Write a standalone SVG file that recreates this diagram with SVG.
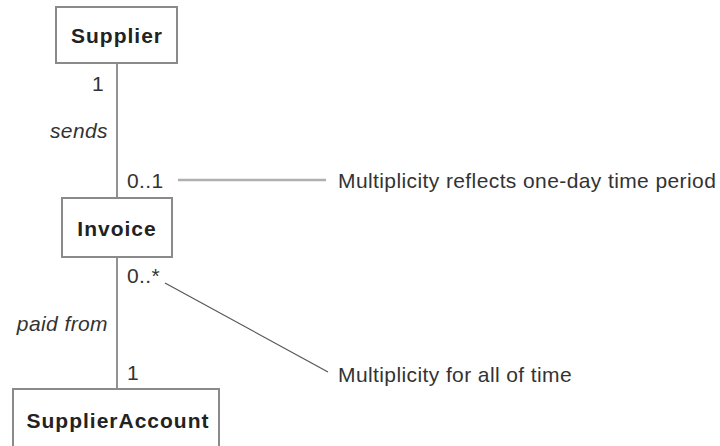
<svg xmlns="http://www.w3.org/2000/svg" width="720" height="446" viewBox="0 0 720 446">
<style>
.box{fill:#fff;stroke:#8a8a8a;stroke-width:2}
.name{font-family:"Liberation Sans",Arial,sans-serif;font-weight:bold;font-size:21px;letter-spacing:1px;fill:#222;text-anchor:middle}
.lbl{font-family:"Liberation Sans",Arial,sans-serif;font-size:21px;letter-spacing:0.4px;fill:#333}
.it{font-style:italic}
.assoc{stroke:#6e6e6e;stroke-width:1.5;fill:none}
</style>
<rect width="720" height="446" fill="#fff"/>
<g id="connectors">
<line class="assoc" x1="117" y1="63" x2="117" y2="198"/>
<line class="assoc" x1="117" y1="257" x2="117" y2="389"/>
<line x1="178" y1="180" x2="326" y2="180" stroke="#b0b0b0" stroke-width="2.5"/>
<line x1="165" y1="283" x2="328" y2="372" stroke="#555" stroke-width="1.2"/>
</g>
<g id="supplier">
<rect class="box" x="56" y="7" width="121" height="56"/>
<text class="name" x="117" y="43">Supplier</text>
</g>
<g id="invoice">
<rect class="box" x="62" y="198" width="110" height="59"/>
<text class="name" x="117" y="236">Invoice</text>
</g>
<g id="supplieraccount">
<rect class="box" x="13" y="389" width="206" height="70"/>
<text class="name" x="118" y="428">SupplierAccount</text>
</g>
<g id="labels">
<text class="lbl" x="104" y="91" text-anchor="end">1</text>
<text class="lbl it" x="108" y="138" text-anchor="end">sends</text>
<text class="lbl" x="127" y="188">0..1</text>
<text class="lbl" x="127" y="283">0..*</text>
<text class="lbl it" x="108" y="331" text-anchor="end">paid from</text>
<text class="lbl" x="127" y="380">1</text>
<text class="lbl" x="338" y="188">Multiplicity reflects one-day time period</text>
<text class="lbl" x="338" y="382">Multiplicity for all of time</text>
</g>
</svg>
